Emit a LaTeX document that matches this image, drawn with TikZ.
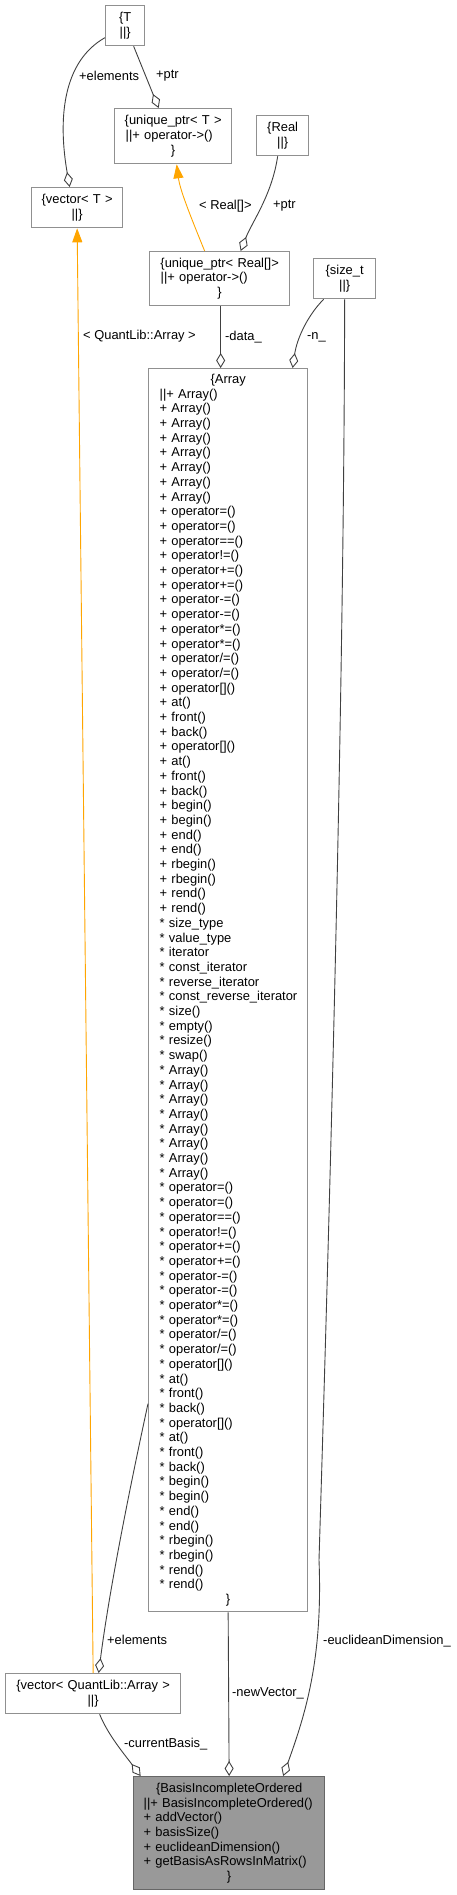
\documentclass[tikz,border=0pt]{standalone}
\usepackage{fontspec}
\setmainfont{Liberation Sans}
\usetikzlibrary{arrows.meta}
\definecolor{boxgray}{HTML}{909090}
\definecolor{edgegray}{HTML}{404040}
\definecolor{tmplorange}{HTML}{FFA500}
\definecolor{mainfill}{HTML}{999999}
\definecolor{mainborder}{HTML}{666666}
\newcommand{\fsz}{\fontsize{12.9pt}{14.7pt}\selectfont}
\newcommand{\cl}[1]{\hbox to\hsize{\hss#1\hss}}
\tikzset{
  cls/.style={draw=boxgray, line width=1.3pt, fill=white, anchor=north west,
    inner sep=0pt, font=\fsz, align=left},
  mainbox/.style={cls, draw=mainborder, fill=mainfill},
  agg/.style={draw=edgegray, line width=0.9pt,
    -{Diamond[length=15pt,width=9pt,fill=white,line width=0.9pt]}},
  tmpl/.style={draw=tmplorange, line width=0.9pt,
    -{Triangle[length=14pt,width=10pt]}},
  lbl/.style={font=\fsz, anchor=west, inner sep=0pt, text=black},
}
\begin{document}
\begin{tikzpicture}[x=1pt,y=-1pt]
\useasboundingbox (0,0) rectangle (457,1895);

% boxes
\node[cls, minimum width=39pt, minimum height=40pt, text width=35pt] (T) at (105,5)
  {\cl{\{T}\\\cl{||\}}};
\node[cls, minimum width=117pt, minimum height=55pt, text width=95pt] (uT) at (114,108)
  {\cl{\{unique\_ptr< T >}\\||+ operator->()\\\cl{\}}};
\node[cls, minimum width=52pt, minimum height=40pt, text width=48pt] (Real) at (256,115)
  {\cl{\{Real}\\\cl{||\}}};
\node[cls, minimum width=91pt, minimum height=40pt, text width=87pt] (vT) at (31,187)
  {\cl{\{vector< T >}\\\cl{||\}}};
\node[cls, minimum width=140pt, minimum height=54pt, text width=118pt] (uR) at (149,251)
  {\cl{\{unique\_ptr< Real[]>}\\||+ operator->()\\\cl{\}}};
\node[cls, minimum width=62pt, minimum height=40pt, text width=58pt] (sz) at (313,258)
  {\cl{\{size\_t}\\\cl{||\}}};
\node[cls, minimum width=175pt, minimum height=40pt, text width=171pt] (vQ) at (5,1673)
  {\cl{\{vector< QuantLib::Array >}\\\cl{||\}}};
\node[cls, minimum width=159pt, minimum height=1243pt, text width=137pt] (Arr) at (148,368)
  {\cl{\{Array}\\
  ||+ Array()\\
  + Array()\\
  + Array()\\
  + Array()\\
  + Array()\\
  + Array()\\
  + Array()\\
  + Array()\\
  + operator=()\\
  + operator=()\\
  + operator==()\\
  + operator!=()\\
  + operator+=()\\
  + operator+=()\\
  + operator-=()\\
  + operator-=()\\
  + operator*=()\\
  + operator*=()\\
  + operator/=()\\
  + operator/=()\\
  + operator[]()\\
  + at()\\
  + front()\\
  + back()\\
  + operator[]()\\
  + at()\\
  + front()\\
  + back()\\
  + begin()\\
  + begin()\\
  + end()\\
  + end()\\
  + rbegin()\\
  + rbegin()\\
  + rend()\\
  + rend()\\
  {}* size\_type\\
  {}* value\_type\\
  {}* iterator\\
  {}* const\_iterator\\
  {}* reverse\_iterator\\
  {}*~const\_reverse\_iterator\\
  {}* size()\\
  {}* empty()\\
  {}* resize()\\
  {}* swap()\\
  {}* Array()\\
  {}* Array()\\
  {}* Array()\\
  {}* Array()\\
  {}* Array()\\
  {}* Array()\\
  {}* Array()\\
  {}* Array()\\
  {}* operator=()\\
  {}* operator=()\\
  {}* operator==()\\
  {}* operator!=()\\
  {}* operator+=()\\
  {}* operator+=()\\
  {}* operator-=()\\
  {}* operator-=()\\
  {}* operator*=()\\
  {}* operator*=()\\
  {}* operator/=()\\
  {}* operator/=()\\
  {}* operator[]()\\
  {}* at()\\
  {}* front()\\
  {}* back()\\
  {}* operator[]()\\
  {}* at()\\
  {}* front()\\
  {}* back()\\
  {}* begin()\\
  {}* begin()\\
  {}* end()\\
  {}* end()\\
  {}* rbegin()\\
  {}* rbegin()\\
  {}* rend()\\
  {}* rend()\\
  \cl{\}}};
\node[mainbox, minimum width=191pt, minimum height=113pt, text width=171pt] (B) at (133,1776)
  {\cl{\{BasisIncompleteOrdered}\\
  ||+ BasisIncompleteOrdered()\\
  + addVector()\\
  + basisSize()\\
  + euclideanDimension()\\
  + getBasisAsRowsInMatrix()\\
  \cl{\}}};

% connectors
\draw[agg] ([yshift=-12pt]T.west) .. controls (62,62) and (58,120) .. ([xshift=-7.5pt]vT.north);
\draw[agg] ([xshift=8.5pt]T.south) -- ([xshift=-14.5pt]uT.north);
\draw[agg] ([xshift=-5pt]Real.south) .. controls (272,195) and (252,222) .. ([xshift=21pt]uR.north);
\draw[tmpl] ([xshift=-15pt]uR.north) .. controls (190,215) and (180,190) .. ([xshift=3.5pt]uT.south);
\draw[agg] ([xshift=1pt]uR.south) -- ([xshift=-7.5pt]Arr.north);
\draw[agg] ([xshift=-21pt]sz.south) .. controls (308,315) and (297,338) .. ([xshift=64.5pt]Arr.north);
\draw[tmpl] (vQ.north) -- (vT.south);
\draw[agg] ([yshift=-413.5pt]Arr.west) .. controls (125,1510) and (108,1600) .. ([xshift=5.5pt]vQ.north);
\draw[agg] (Arr.south) -- (B.north);
\draw[agg] ([xshift=6.5pt]vQ.south) .. controls (108,1735) and (125,1755) .. ([xshift=-88.5pt]B.north);
\draw[agg] (sz.south) .. controls (344,700) and (330,1200) .. (319,1560)
  .. controls (323,1660) and (305,1715) .. ([xshift=54pt]B.north);

% labels
\node[lbl] (l1) at (79,76) {+elements};
\node[lbl] (l2) at (156,76) {+ptr};
\node[lbl] (l3) at (199,206) {< Real[]>};
\node[lbl] (l4) at (273,206) {+ptr};
\node[lbl] (l5) at (83,336) {< QuantLib::Array >};
\node[lbl] (l6) at (225,337) {-data\_};
\node[lbl] (l7) at (307,337) {-n\_};
\node[lbl] (l8) at (107,1640) {+elements};
\node[lbl] (l9) at (323,1641) {-euclideanDimension\_};
\node[lbl] (l10) at (232,1693) {-newVector\_};
\node[lbl] (l11) at (124,1744) {-currentBasis\_};
\end{tikzpicture}
\end{document}
